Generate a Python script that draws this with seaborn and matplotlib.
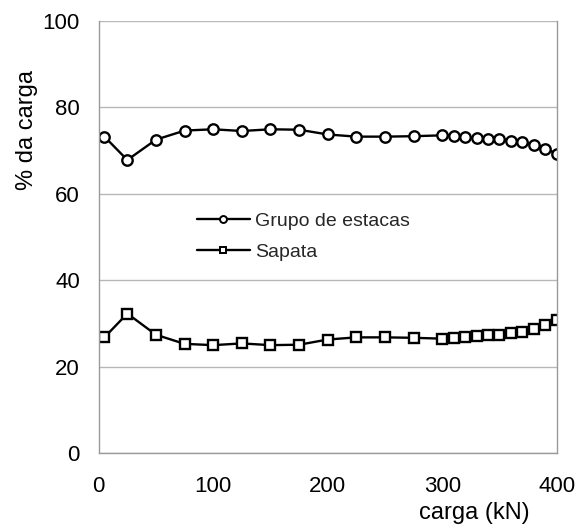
import matplotlib
matplotlib.use("Agg")
import matplotlib.pyplot as plt
import seaborn as sns
import pandas as pd
from matplotlib.lines import Line2D

carga = [5, 25, 50, 75, 100, 125, 150, 175, 200, 225, 250, 275, 300,
         310, 320, 330, 340, 350, 360, 370, 380, 390, 400]
grupo = [73.2, 67.8, 72.5, 74.6, 74.9, 74.5, 74.9, 74.8, 73.7, 73.2, 73.2, 73.3, 73.5,
         73.4, 73.1, 72.9, 72.7, 72.6, 72.3, 71.9, 71.3, 70.4, 69.3]
sapata = [26.8, 32.3, 27.4, 25.3, 25.0, 25.4, 25.0, 25.1, 26.3, 26.8, 26.8, 26.7, 26.5,
          26.6, 26.9, 27.1, 27.3, 27.4, 27.7, 28.1, 28.7, 29.6, 30.7]
series_names = ["Grupo de estacas", "Sapata"]
x_ticks = [0, 100, 200, 300, 400]
y_ticks = [0, 20, 40, 60, 80, 100]

df = pd.DataFrame({
    "carga": carga * 2,
    "valor": grupo + sapata,
    "serie": [series_names[0]] * len(carga) + [series_names[1]] * len(carga),
})

sns.set_theme(style="white")
plt.rcParams["font.family"] = ["Liberation Sans", "DejaVu Sans"]

fig = plt.figure(figsize=(5.86, 5.30), dpi=100)
ax = fig.add_axes([98.7 / 586, 1 - 453.3 / 530, 458 / 586, 432.6 / 530])

sns.lineplot(data=df, x="carga", y="valor", hue="serie", style="serie",
             palette=["black", "black"], markers=["o", "s"], dashes=False,
             markersize=7.5, markerfacecolor="white", markeredgecolor="black",
             markeredgewidth=1.7, linewidth=1.7, ax=ax, legend=False)

ax.set_xlim(0, 400)
ax.set_ylim(0, 100)
ax.set_xticks(x_ticks)
ax.set_yticks(y_ticks)
ax.set_xticklabels([str(v) for v in x_ticks])
ax.set_yticklabels([str(v) for v in y_ticks])

grey = "#9a9a9a"
ax.yaxis.grid(True, color="#b8b8b8", linewidth=1.0)
ax.xaxis.grid(False)
for s in ["left", "bottom", "right"]:
    ax.spines[s].set_color(grey)
    ax.spines[s].set_linewidth(1.0)
ax.spines["top"].set_visible(False)

ax.tick_params(axis="both", which="major", direction="inout", length=9,
               width=1.0, color=grey, labelsize=16, labelcolor="black")
ax.tick_params(axis="x", pad=12)
ax.tick_params(axis="y", pad=9)

ax.set_xlabel("carga (kN)", fontsize=17, color="black", va="center", ha="center")
ax.set_ylabel("% da carga", fontsize=17, color="black", va="center", ha="center")
ax.xaxis.set_label_coords((474.5 - 98.7) / 458, (453.3 - 513) / 432.6)
ax.yaxis.set_label_coords((27 - 98.7) / 458, (453.3 - 130) / 432.6)

handles = [
    Line2D([], [], color="black", linewidth=1.7, marker="o", markersize=5,
           markerfacecolor="white", markeredgecolor="black", markeredgewidth=1.4),
    Line2D([], [], color="black", linewidth=1.7, marker="s", markersize=5,
           markerfacecolor="white", markeredgecolor="black", markeredgewidth=1.4),
]
ax.legend(handles, series_names, loc="center left",
          bbox_to_anchor=((197 - 98.7) / 458, (453.3 - 236.5) / 432.6),
          frameon=False, fontsize=14, handlelength=2.7, handletextpad=0.3,
          labelspacing=0.7, borderaxespad=0, borderpad=0)

fig.savefig("out.png", dpi=100)
